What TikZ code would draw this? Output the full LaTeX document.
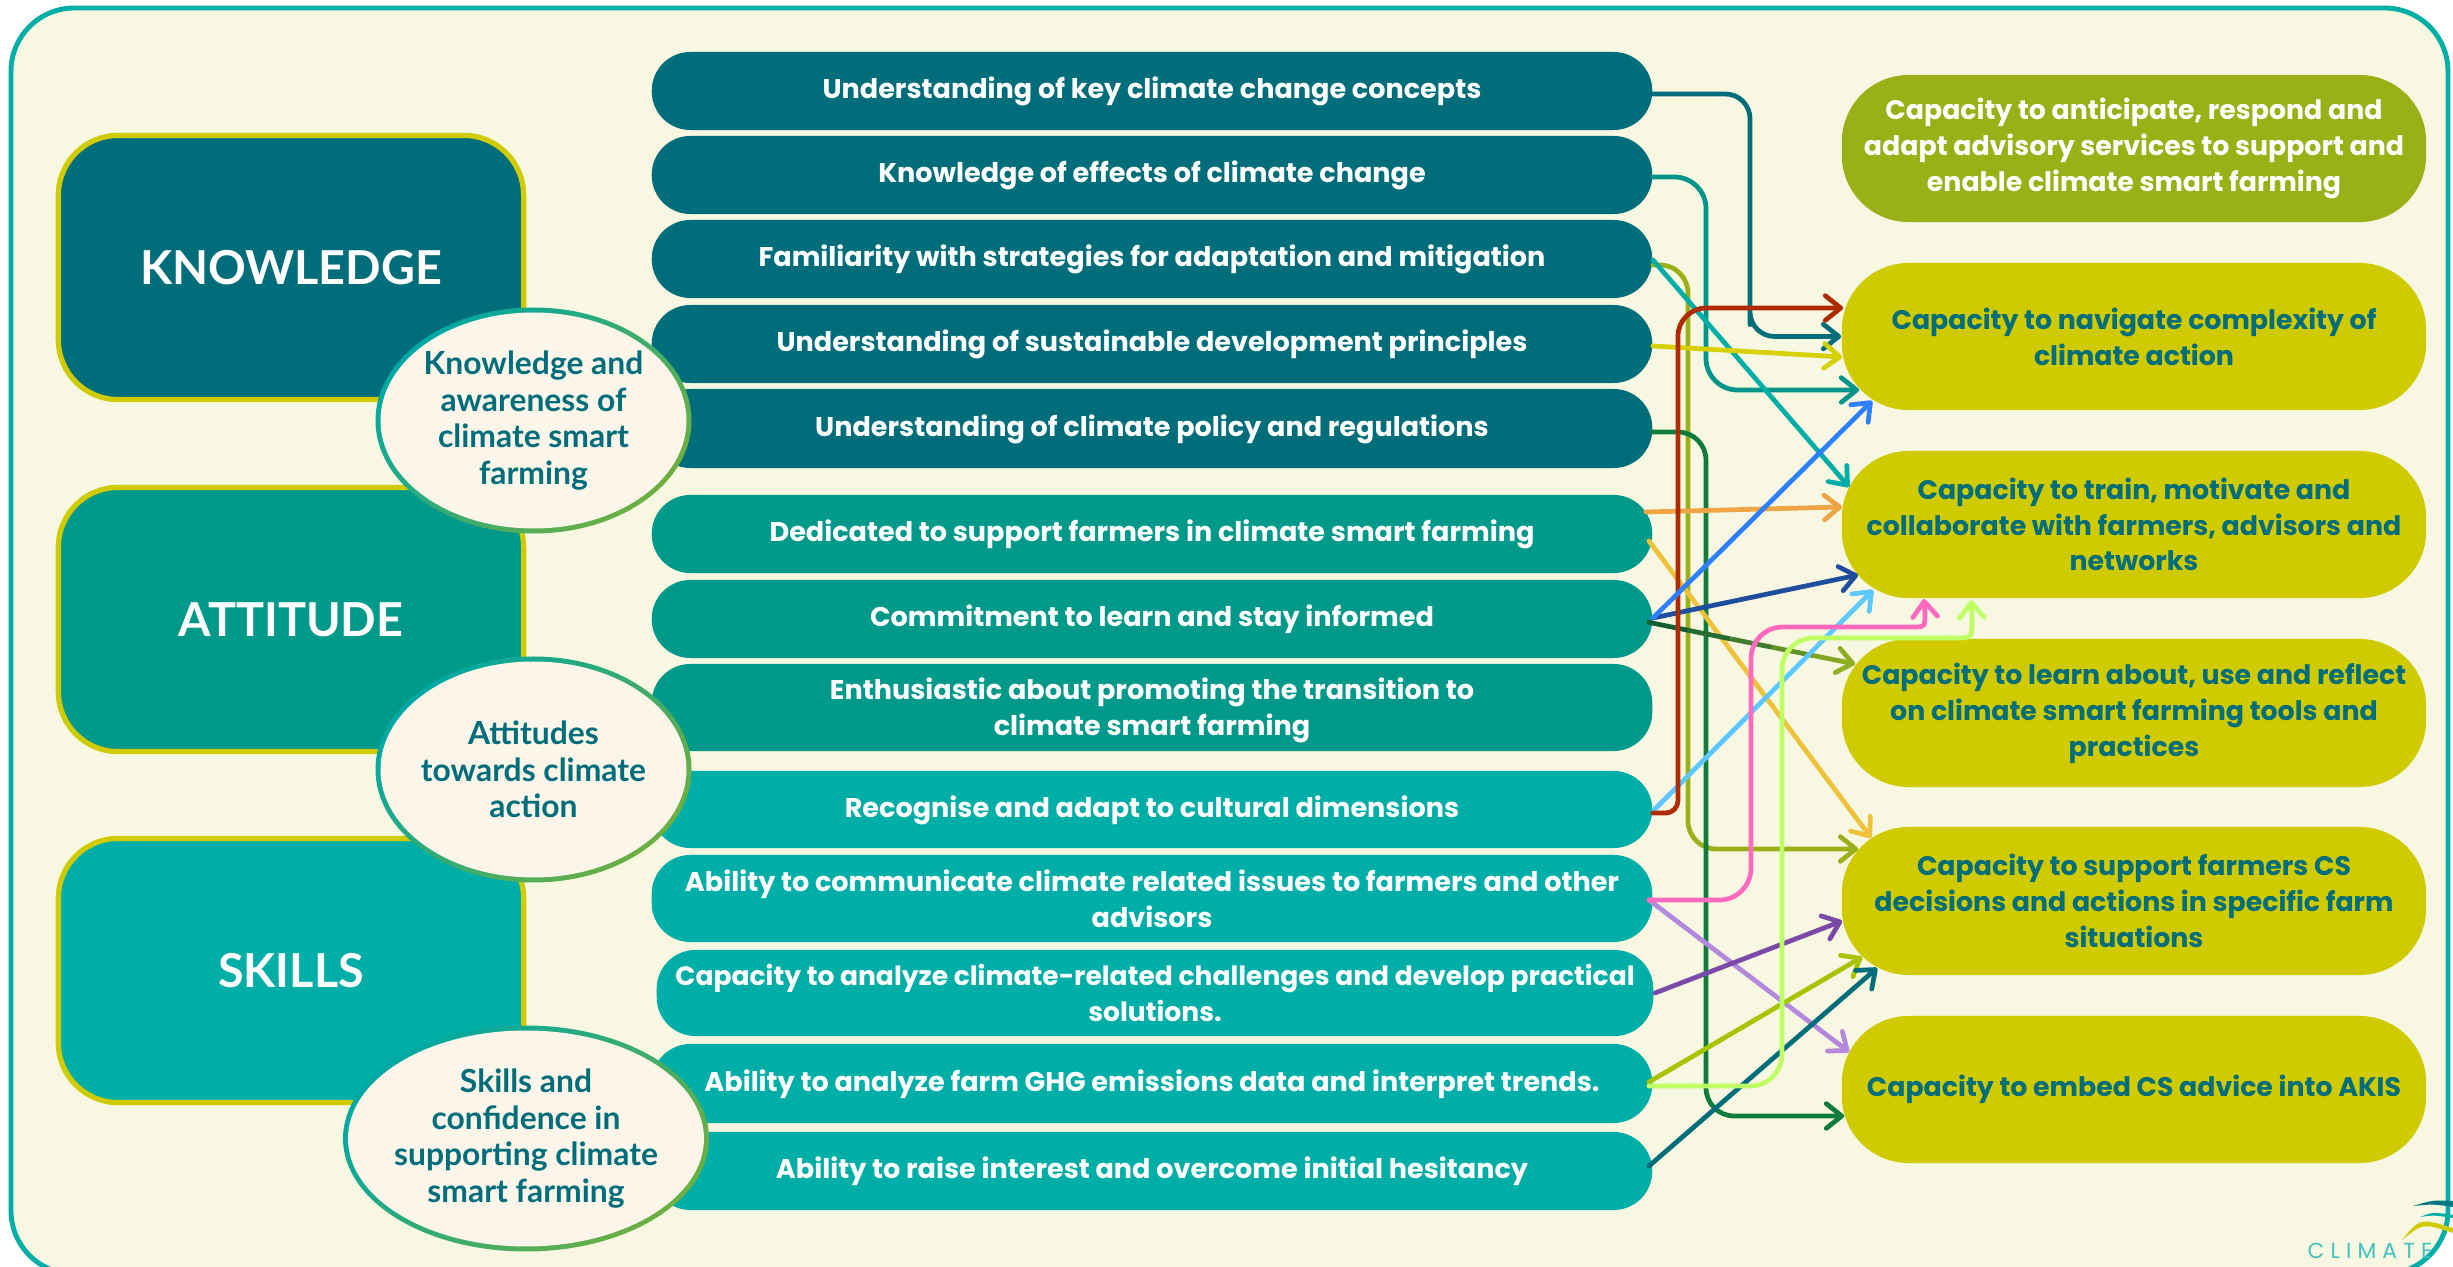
\documentclass[tikz,border=0pt]{standalone}
\usepackage{fontspec}
\usetikzlibrary{arrows.meta,calc,shapes.geometric}
\setmainfont{Poppins}
\newfontfamily\lat{Lato}
\newfontfamily\logof[LetterSpace=28]{Poppins}
\definecolor{kn}{HTML}{006D7A}
\definecolor{at}{HTML}{00998A}
\definecolor{sk}{HTML}{00AEA8}
\definecolor{ye}{HTML}{CFCB00}
\definecolor{ol}{HTML}{9AB017}
\definecolor{bgc}{HTML}{F8F8E2}
\definecolor{cre}{HTML}{FCF5EA}
\newcommand\dn{\rule{0pt}{6.5pt}}
\tikzset{
 rowk/.style={rectangle,rounded corners=11pt,minimum width=10cm,minimum height=#1,inner sep=0pt,text=white,font=\bfseries\fontsize{7.7}{10.2}\selectfont,align=center},
 capb/.style={rectangle,rounded corners=19pt,minimum width=5.84cm,minimum height=#1,inner sep=0pt,fill=ye,text=kn,font=\bfseries\fontsize{7.62}{10.2}\selectfont,align=center},
 bigb/.style={rectangle,rounded corners=17pt,minimum width=4.65cm,minimum height=2.64cm,inner sep=0pt,draw=ye,line width=1.5pt,text=white,font=\lat\bfseries\fontsize{13.3}{16}\selectfont},
 elltxt/.style={rectangle,inner sep=0pt,text=kn,font=\lat\bfseries\fontsize{9.05}{10.4}\selectfont,align=center},
 ringb/.style={left color=sk!90!kn,right color=ol!70!sk,shading angle=45},
 conn/.style={line width=1.35pt,line cap=round,line join=round,-{Straight Barb[length=4.4pt,width=7pt,line cap=round,line join=round]}},
 plain/.style={line width=1.35pt,line cap=round}
}
\begin{document}
\begin{tikzpicture}[x=0.01cm,y=-0.01cm]
\useasboundingbox (0,0) rectangle (2453,1267);
\clip (0,0) rectangle (2453,1267);
\fill[white] (0,0) rectangle (2453,1267);
\draw[draw=sk,fill=bgc,line width=1.4pt,rounded corners=18pt] (11,8) rectangle (2448,1274);
% left boxes
\node[bigb,fill=kn] (kb) at (291,267.5) {KNOWLEDGE};
\node[bigb,fill=at] (ab) at (291,619.5) {ATTITUDE};
\node[bigb,fill=sk] (sb) at (291,970.5) {SKILLS};
% rows
\node[rowk=0.78cm,fill=kn] (r1) at (1152,91) {\dn Understanding of key climate change concepts};
\node[rowk=0.78cm,fill=kn] (r2) at (1152,175) {\dn Knowledge of effects of climate change};
\node[rowk=0.78cm,fill=kn] (r3) at (1152,259) {\dn Familiarity with strategies for adaptation and mitigation};
\node[rowk=0.78cm,fill=kn] (r4) at (1152,344) {\dn Understanding of sustainable development principles};
\node[rowk=0.79cm,fill=kn] (r5) at (1152,428.5) {\dn Understanding of climate policy and regulations};
\node[rowk=0.78cm,fill=at] (r6) at (1152,534) {\dn Dedicated to support farmers in climate smart farming};
\node[rowk=0.78cm,fill=at] (r7) at (1152,619) {\dn Commitment to learn and stay informed};
\node[rowk=0.87cm,fill=at] (r8) at (1152,707.5) {\rule{0pt}{7.6pt}Enthusiastic about promoting the transition to\\climate smart farming};
\node[rowk=0.77cm,fill=sk] (r9) at (1152,809.5) {\dn Recognise and adapt to cultural dimensions};
\node[rowk=0.87cm,fill=sk] (r10) at (1152,898.5) {Ability to communicate climate related issues to farmers and other\\advisors};
\node[rowk=0.86cm,fill=sk,minimum width=9.96cm,font=\bfseries\fontsize{7.55}{10.2}\selectfont] (r11) at (1155,993) {Capacity to analyze climate-related challenges and develop practical\\solutions.};
\node[rowk=0.79cm,fill=sk] (r12) at (1152,1083.5) {\dn Ability to analyze farm GHG emissions data and interpret trends.};
\node[rowk=0.78cm,fill=sk] (r13) at (1152,1171) {\dn Ability to raise interest and overcome initial hesitancy};
% capacities
\node[capb=1.47cm,fill=ol,text=white] (c1) at (2134,148.5) {Capacity to anticipate, respond and\\adapt advisory services to support and\\enable climate smart farming};
\node[capb=1.47cm] (c2) at (2134,336.5) {Capacity to navigate complexity of\\climate action};
\node[capb=1.47cm] (c3) at (2134,524.5) {Capacity to train, motivate and\\collaborate with farmers, advisors and\\networks};
\node[capb=1.48cm] (c4) at (2134,713) {Capacity to learn about, use and reflect\\on climate smart farming tools and\\practices};
\node[capb=1.48cm] (c5) at (2134,901) {Capacity to support farmers CS\\decisions and actions in specific farm\\situations};
\node[capb=1.47cm] (c6) at (2134,1089.5) {Capacity to embed CS advice into AKIS};
% ellipses
\shade[ringb] (533.5,420.5) ellipse [x radius=158,y radius=113];
\shade[ringb] (533.5,769.5) ellipse [x radius=158,y radius=113];
\shade[ringb] (526,1138.5) ellipse [x radius=183,y radius=113];
\fill[cre] (533.5,420.5) ellipse [x radius=153,y radius=108];
\fill[cre] (533.5,769.5) ellipse [x radius=153,y radius=108];
\fill[cre] (526,1138.5) ellipse [x radius=178,y radius=108];
\node[elltxt] (e1) at (533.5,420.5) {Knowledge and\\awareness of\\climate smart\\farming};
\node[elltxt] (e2) at (533.5,769.5) {Attitudes\\towards climate\\action};
\node[elltxt] (e3) at (526,1138.5) {Skills and\\confidence in\\supporting climate\\smart farming};
% connectors
\draw[conn,color=kn,rounded corners=7pt] ($(r1.east)+(0,3)$) -| (1750,300) |- (c2.west);
\draw[conn,color=at!90!kn,rounded corners=9pt] ($(r2.east)+(0,2)$) -| (1706,300) |- ($(c2.west)+(18,53.5)$);
\draw[conn,color=ol,rounded corners=8pt] ($(r3.east)+(0,6)$) -| (1688,500) |- ($(c5.west)+(17,-52)$);
\definecolor{dgr}{HTML}{0E7C3A}
\draw[conn,color=dgr,rounded corners=8pt] ($(r5.east)+(0,3.5)$) -| (1706,800) |- ($(c6.west)+(3,26.5)$);
\draw[conn,color=sk] ($(r3.east)+(0,1)$) -- ($(c3.west)+(8,-37.5)$);
\definecolor{yl}{HTML}{D6D000}
\draw[conn,color=yl] ($(r4.east)+(0,2)$) -- ($(c2.west)+(1,20.5)$);
\definecolor{orn}{HTML}{EFA445}
\draw[conn,color=orn] ($(r6.east)+(-7,-22)$) -- ($(c3.west)+(1,-17.5)$);
\definecolor{gold}{HTML}{EEC239}
\draw[conn,color=gold] ($(r6.east)+(-4,7)$) -- ($(c5.west)+(30,-63)$);
\definecolor{lavn}{HTML}{B388DD}
\draw[conn,color=lavn] ($(r10.east)+(-4,1.5)$) -- ($(c6.west)+(8,-37.5)$);
\definecolor{purp}{HTML}{7B4AA8}
\draw[conn,color=purp] ($(r11.east)+(1,0)$) -- ($(c5.west)+(1,20)$);
\definecolor{lime1}{HTML}{A8C400}
\draw[conn,color=lime1] ($(r12.east)+(-4,-1.5)$) -- ($(c5.west)+(21,56)$);
\draw[conn,color=kn] ($(r13.east)+(-4,-5)$) -- ($(c5.west)+(36,67)$);
\definecolor{navy1}{HTML}{1F4E9E}
\draw[conn,color=navy1] ($(r7.east)+(0,-1)$) -- ($(c3.west)+(17,50.5)$);
% gradient connector
\coordinate (g0) at ($(r7.east)+(-6,3)$);
\coordinate (g1) at ($(c4.west)+(14,-49)$);
\definecolor{dg}{HTML}{0B5A36}
\definecolor{og}{HTML}{8FAF22}
\foreach \a/\b/\p in {0/.2/5,.2/.4/20,.4/.6/40,.6/.8/65,.8/.95/90}
  \draw[plain,line cap=butt,color=og!\p!dg] ($(g0)!\a!(g1)$) -- ($(g0)!\b!(g1)$);
\draw[conn,color=og] ($(g0)!.94!(g1)$) -- (g1);
\definecolor{sky1}{HTML}{5CC8FF}
\draw[conn,color=sky1] ($(r9.east)+(1,.5)$) -- ($(c3.west)+(32,65.5)$);
\definecolor{pk}{HTML}{FF69C0}
\draw[conn,color=pk,rounded corners=9pt] ($(r10.east)+(-4,1.5)$) -- (1751,900) -- (1751,627) [sharp corners] -- (1912,627) .. controls (1925,627) and (1925,627) .. (1925,614) -- ($(c3.west)+(83,74.5)$);
\definecolor{lg}{HTML}{BFFF66}
\draw[conn,color=lg,rounded corners=9pt] ($(r12.east)+(-4,2.5)$) -- (1782,1086) -- (1782,638) [sharp corners] -- (1955,638) .. controls (1972,638) and (1972,638) .. (1972,621) -- ($(c3.west)+(130,75.5)$);
\definecolor{rd}{HTML}{B02A00}
\draw[conn,color=rd,rounded corners=3.5pt] ($(r9.east)+(0,3.5)$) -- (1678,813) [rounded corners=8pt] -- (1678,308) -- ($(c2.west)+(2,-28.5)$);
\definecolor{blu}{HTML}{2F80FF}
\draw[conn,color=blu] ($(r7.east)+(0,-1)$) -- ($(c2.west)+(31,64.5)$);
% logo
\fill[kn!85!sk] (2413,1206) .. controls (2433,1200) .. (2453,1201) -- (2453,1207) .. controls (2433,1204) .. (2413,1206) -- cycle;
\fill[sk] (2420,1217) .. controls (2433,1212) .. (2453,1215) -- (2453,1218) .. controls (2433,1215) .. (2420,1217) -- cycle;
\fill[ye] (2402,1240) .. controls (2420,1218) .. (2453,1228) -- (2453,1233) .. controls (2423,1223) .. (2402,1240) -- cycle;
\node[inner sep=0pt,anchor=base,text=sk!75,font=\logof\fontsize{6.2}{7}\selectfont] (lg1) at (2370,1258) {CLIMATE};
\node[inner sep=0pt,anchor=base,text=sk!75,font=\logof\fontsize{6.2}{7}\selectfont] (lg2) at (2386,1284) {SMART};
\end{tikzpicture}
\end{document}
